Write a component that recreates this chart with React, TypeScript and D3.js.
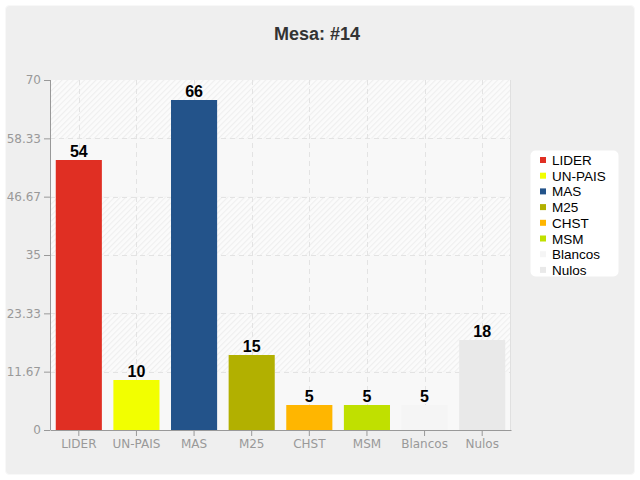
import * as d3 from "d3";
import React, { useEffect, useRef } from "react";

// chart data
const categories = ["LIDER", "UN-PAIS", "MAS", "M25", "CHST", "MSM", "Blancos", "Nulos"];
const votes = [54, 10, 66, 15, 5, 5, 5, 18];
const colors = ["#e02f23", "#f2ff00", "#23538a", "#b2b000", "#ffb600", "#c0e000", "#f5f5f5", "#e9e9e9"];
const yTicks = [0, 11.67, 23.33, 35, 46.67, 58.33, 70];

const W = 640;
const H = 480;
const margin = { top: 80, right: 129, bottom: 50, left: 50 };

function App() {
  const svgRef = useRef<SVGSVGElement>(null);

  useEffect(() => {
    const svg = d3.select(svgRef.current);
    svg.selectAll("*").remove();

    const innerW = W - margin.left - margin.right;
    const innerH = H - margin.top - margin.bottom;

    // hatch pattern for the alternating bands
    const defs = svg.append("defs");
    const pat = defs
      .append("pattern")
      .attr("id", "hatch")
      .attr("patternUnits", "userSpaceOnUse")
      .attr("width", 4)
      .attr("height", 4)
      .attr("patternTransform", "rotate(45)");
    pat.append("rect").attr("width", 4).attr("height", 4).attr("fill", "#fbfbfb");
    pat.append("line").attr("x1", 0.5).attr("y1", 0).attr("x2", 0.5).attr("y2", 4)
      .attr("stroke", "#efefef").attr("stroke-width", 1.2);

    // outer panel
    svg.append("rect").attr("width", W).attr("height", H).attr("fill", "#fff");
    svg.append("rect")
      .attr("x", 5.5).attr("y", 5.5).attr("width", W - 11).attr("height", H - 11)
      .attr("rx", 4).attr("fill", "#efefef").attr("stroke", "#f8f8f8");

    svg.append("text")
      .attr("x", 317).attr("y", 40)
      .attr("text-anchor", "middle")
      .style("font", "bold 18px 'Liberation Sans', Arial, sans-serif")
      .attr("fill", "#333")
      .text("Mesa: #14");

    const g = svg.append("g").attr("transform", `translate(${margin.left},${margin.top})`);

    const x = d3.scaleBand().domain(categories).range([0, innerW]).paddingInner(0.2).paddingOuter(0.1);
    const y = d3.scaleLinear().domain([0, 70]).range([innerH, 0]);

    // alternating bands
    const bands = d3.pairs(yTicks);
    g.selectAll(".band")
      .data(bands)
      .join("rect")
      .attr("class", "band")
      .attr("x", 0)
      .attr("width", innerW)
      .attr("y", (d) => y(d[1]))
      .attr("height", (d) => y(d[0]) - y(d[1]))
      .attr("fill", (d, i) => (i % 2 === 0 ? "#f8f8f8" : "url(#hatch)"));

    // grid
    g.selectAll(".hgrid")
      .data(yTicks.slice(1, -1))
      .join("line")
      .attr("x1", 0).attr("x2", innerW)
      .attr("y1", (d) => Math.round(y(d)) + 0.5).attr("y2", (d) => Math.round(y(d)) + 0.5)
      .attr("stroke", "#e3e3e3").attr("stroke-dasharray", "5,4");
    g.selectAll(".vgrid")
      .data(categories)
      .join("line")
      .attr("x1", (d) => Math.round(x(d)! + x.bandwidth() / 2) + 0.5)
      .attr("x2", (d) => Math.round(x(d)! + x.bandwidth() / 2) + 0.5)
      .attr("y1", 0).attr("y2", innerH)
      .attr("stroke", "#e3e3e3").attr("stroke-dasharray", "5,4");
    g.append("line").attr("x1", innerW - 0.5).attr("x2", innerW - 0.5).attr("y1", 0).attr("y2", innerH)
      .attr("stroke", "#e0e0e0");

    // bars
    g.selectAll(".bar")
      .data(votes)
      .join("rect")
      .attr("class", "bar")
      .attr("x", (d, i) => x(categories[i])!)
      .attr("width", x.bandwidth())
      .attr("y", (d) => y(d))
      .attr("height", (d) => innerH - y(d))
      .attr("fill", (d, i) => colors[i]);

    g.selectAll(".lbl")
      .data(votes)
      .join("text")
      .attr("x", (d, i) => x(categories[i])! + x.bandwidth() / 2)
      .attr("y", (d) => y(d) - 3)
      .attr("text-anchor", "middle")
      .style("font", "bold 16px 'Liberation Sans', Arial, sans-serif")
      .attr("fill", "#000")
      .text((d) => d);

    // axes
    const yAxis = g.append("g").call(
      d3.axisLeft(y).tickValues(yTicks).tickSize(6).tickFormat((d) => String(d))
    );
    const xAxis = g.append("g").attr("transform", `translate(0,${innerH})`).call(
      d3.axisBottom(x).tickSize(6).tickSizeOuter(0)
    );
    [yAxis, xAxis].forEach((a) => {
      a.select(".domain").attr("stroke", "#999");
      a.selectAll(".tick line").attr("stroke", "#999");
      a.selectAll(".tick text")
        .attr("fill", "#999")
        .style("font", "12px 'DejaVu Sans', Verdana, sans-serif");
    });
    yAxis.selectAll(".tick text").attr("x", -9);
    yAxis.select(".domain").attr("d", `M0.5,0V${innerH}`);

    // legend
    const lg = svg.append("g").attr("transform", "translate(530,150)");
    lg.append("rect")
      .attr("x", 0.5).attr("y", 0.5).attr("width", 88).attr("height", 126)
      .attr("rx", 5).attr("fill", "#fff");
    const items = lg.selectAll(".item")
      .data(categories)
      .join("g")
      .attr("transform", (d, i) => `translate(0,${10 + i * 15.7})`);
    items.append("rect")
      .attr("x", 10).attr("y", -3).attr("width", 6).attr("height", 6)
      .attr("fill", (d, i) => colors[i]);
    items.append("text")
      .attr("x", 22).attr("y", 5)
      .style("font", "13.5px 'Liberation Sans', Arial, sans-serif")
      .attr("fill", "#000")
      .text((d) => d);
  }, []);

  return (
    <svg
      ref={svgRef}
      width={W}
      height={H}
      style={{ display: "block", position: "absolute", left: 0, top: 0 }}
    />
  );
}

export default App;
